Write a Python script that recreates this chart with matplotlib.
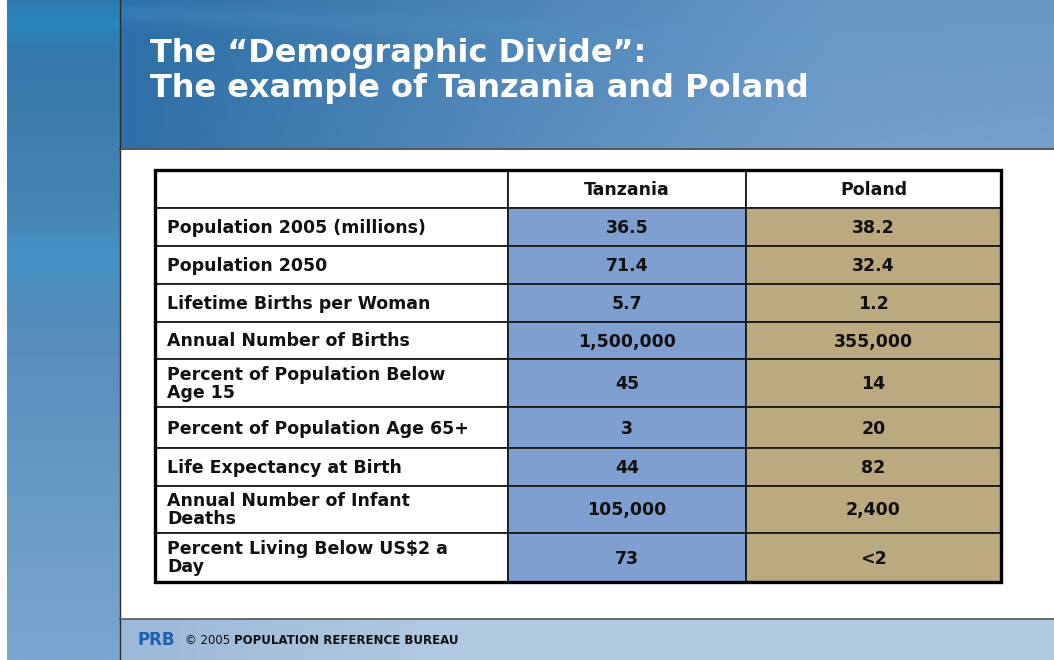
import numpy as np
import matplotlib
matplotlib.use("Agg")
import matplotlib.pyplot as plt
from matplotlib.patches import Rectangle
from matplotlib.colors import to_rgb

# ---- data ----
title_lines = ["The \u201cDemographic Divide\u201d:", "The example of Tanzania and Poland"]
columns = ["Tanzania", "Poland"]
row_labels = [
    "Population 2005 (millions)",
    "Population 2050",
    "Lifetime Births per Woman",
    "Annual Number of Births",
    "Percent of Population Below\nAge 15",
    "Percent of Population Age 65+",
    "Life Expectancy at Birth",
    "Annual Number of Infant\nDeaths",
    "Percent Living Below US$2 a\nDay",
]
tanzania = ["36.5", "71.4", "5.7", "1,500,000", "45", "3", "44", "105,000", "73"]
poland = ["38.2", "32.4", "1.2", "355,000", "14", "20", "82", "2,400", "<2"]
footer_plain = "\u00a9 2005 "
footer_bold = "POPULATION REFERENCE BUREAU"

# ---- layout / style ----
W, H = 1054, 660
col_colors = ["#7F9FD1", "#BBAA7F"]
row_edges = [170, 208, 246, 284, 322, 359, 407, 448, 486, 533, 582]
col_edges = [155, 508, 746, 1001]
FS = 12.5

fig = plt.figure(figsize=(W / 100, H / 100), dpi=100)
ax = fig.add_axes([0, 0, 1, 1])
ax.set_xlim(0, W)
ax.set_ylim(H, 0)
ax.axis("off")
fig.patch.set_facecolor("white")


def blend(c1, c2, t):
    a, b = np.array(to_rgb(c1)), np.array(to_rgb(c2))
    return a * (1 - t[..., None]) + b * t[..., None]

# header band gradient
hx = np.linspace(0, 1, 200)
hy = np.linspace(0, 1, 60)
X, Y = np.meshgrid(hx, hy)
img = blend("#2D6FA6", "#6897C6", np.clip(X * 1.3, 0, 1))
m = (0.3 * Y * X)[..., None]
img = img * (1 - m) + m * np.array(to_rgb("#8FB5DB"))
streak = (np.exp(-((Y - (0.08 + 0.25 * X)) ** 2) / 0.004) * (1 - X) * 0.25)[..., None]
img = img * (1 - streak) + streak * np.array(to_rgb("#4FA3D6"))
ax.imshow(img, extent=(120, W, 148, 0), aspect="auto", interpolation="bilinear", zorder=0)

# left band gradient
ly = np.linspace(0, 1, 120)[:, None] * np.ones((1, 10))
left = blend("#2F74A8", "#7BA6D0", ly)
s2 = (np.exp(-((ly - 0.39) ** 2) / 0.002) * 0.5)[..., None]
left = left * (1 - s2) + s2 * np.array(to_rgb("#3A9CD2"))
s1 = (np.exp(-((ly - 0.03) ** 2) / 0.001) * 0.6)[..., None]
left = left * (1 - s1) + s1 * np.array(to_rgb("#2590C8"))
ax.imshow(left, extent=(7, 120, H, 0), aspect="auto", interpolation="bilinear", zorder=0)

# footer band
fx = np.linspace(0, 1, 100)[None, :] * np.ones((10, 1))
foot = blend("#9CB8D8", "#B0C9E0", np.clip(fx * 3, 0, 1))
ax.imshow(foot, extent=(120, W, H, 619), aspect="auto", interpolation="bilinear", zorder=0)

# separator lines
ax.plot([120, 120], [0, H], color="#2A2A2A", lw=1.0, zorder=2)
ax.plot([120, W], [148.5, 148.5], color="#3A3A3A", lw=1.2, zorder=2)
ax.plot([120, W], [619, 619], color="#555555", lw=1.2, zorder=2)

# title
for i, line in enumerate(title_lines):
    ax.text(150, 62 + 35 * i, line, color="white", fontsize=23, fontweight="bold",
            ha="left", va="baseline", zorder=3)

# table cells
n_rows = len(row_labels)
for r in range(n_rows + 1):
    y0, y1 = row_edges[r], row_edges[r + 1]
    for c in range(3):
        x0, x1 = col_edges[c], col_edges[c + 1]
        fc = "white" if (r == 0 or c == 0) else col_colors[c - 1]
        ax.add_patch(Rectangle((x0, y0), x1 - x0, y1 - y0, facecolor=fc,
                               edgecolor="#1A1A1A", lw=1.3, zorder=3))

# outer border
ax.add_patch(Rectangle((col_edges[0], row_edges[0]), col_edges[-1] - col_edges[0],
                       row_edges[-1] - row_edges[0], facecolor="none",
                       edgecolor="black", lw=2.4, zorder=4))

# header text
for c, name in enumerate(columns):
    xc = (col_edges[c + 1] + col_edges[c + 2]) / 2
    ax.text(xc, (row_edges[0] + row_edges[1]) / 2 + 1, name, ha="center", va="center",
            fontsize=FS, fontweight="bold", color="#111111", zorder=5)

# body text
for r in range(n_rows):
    yc = (row_edges[r + 1] + row_edges[r + 2]) / 2 + 1
    ax.text(167, yc, row_labels[r], ha="left", va="center", fontsize=FS,
            fontweight="bold", color="#111111", linespacing=1.0, zorder=5)
    for c, vals in enumerate([tanzania, poland]):
        xc = (col_edges[c + 1] + col_edges[c + 2]) / 2
        ax.text(xc, yc, vals[r], ha="center", va="center", fontsize=FS,
                fontweight="bold", color="#111111", zorder=5)

# footer logo (PRB)
ax.text(156, 640, "PRB", ha="center", va="center", fontsize=12, fontweight="heavy",
        color="#1F5FB0", zorder=5)
t1 = ax.text(185, 640, footer_plain, ha="left", va="center", fontsize=8.5,
             color="#111111", zorder=5)
fig.canvas.draw()
bb = t1.get_window_extent()
xd = ax.transData.inverted().transform((bb.x1, 0))[0]
ax.text(xd, 640, footer_bold, ha="left", va="center", fontsize=8.5, fontweight="bold",
        color="#111111", zorder=5)

fig.savefig("out.png", dpi=100)
